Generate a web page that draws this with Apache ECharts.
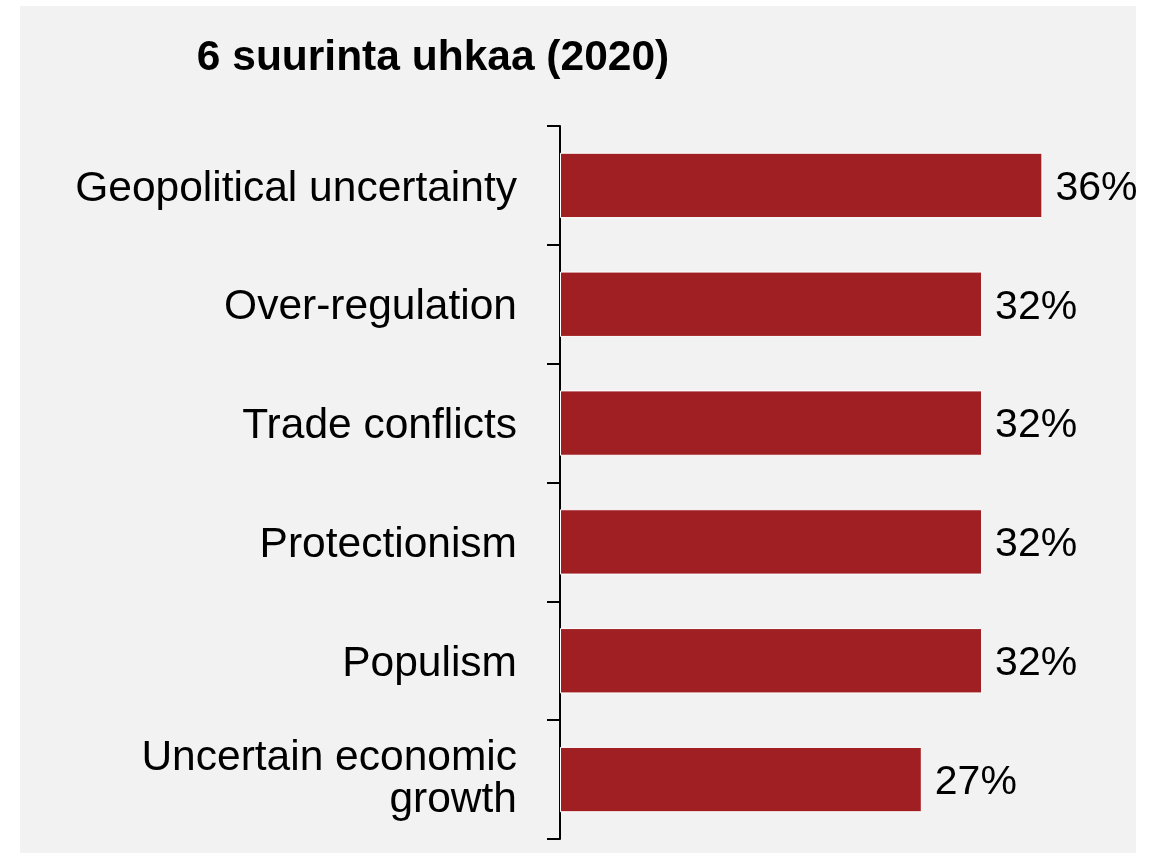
<!DOCTYPE html>
<html>
<head>
<meta charset="utf-8">
<script src="https://cdn.jsdelivr.net/npm/echarts@6/dist/echarts.min.js"></script>
<style>
  html, body { margin: 0; padding: 0; background: #ffffff; }
  #bg { position: absolute; left: 20px; top: 6px; width: 1116px; height: 847px; background: #f2f2f2; }
  #chart { position: absolute; left: 0; top: 0; width: 1158px; height: 854px; }
</style>
</head>
<body>
<div id="bg"></div>
<div id="chart"></div>
<script>
const titleText = '6 suurinta uhkaa (2020)';
const categories = [
  'Geopolitical uncertainty',
  'Over-regulation',
  'Trade conflicts',
  'Protectionism',
  'Populism',
  'Uncertain economic\ngrowth'
];
const values = [36, 31.5, 31.5, 31.5, 31.5, 27];

const font = '"Liberation Sans", Arial, sans-serif';
const labelRich = {
  f: { fontFamily: font, fontSize: 42.5, color: '#000', lineHeight: 42, padding: [7, 0, 0, 0], align: 'right' },
  n: { fontFamily: font, fontSize: 42.5, color: '#000', lineHeight: 42, align: 'right' }
};
const chart = echarts.init(document.getElementById('chart'), null, { renderer: 'canvas' });
chart.setOption({
  backgroundColor: 'transparent',
  animation: false,
  title: {
    text: titleText,
    left: 428,
    textAlign: 'center',
    top: 32,
    textStyle: { fontFamily: font, fontSize: 42.5, fontWeight: 'bold', color: '#000', lineHeight: 42 }
  },
  grid: { left: 560, right: 62, top: 126, bottom: 15, containLabel: false },
  xAxis: {
    type: 'value', min: 0, max: 40, show: false
  },
  yAxis: {
    type: 'category',
    data: categories,
    inverse: true,
    axisLine: { show: true, lineStyle: { color: '#000', width: 2 } },
    axisTick: { show: true, length: 13, lineStyle: { color: '#000', width: 2 } },
    axisLabel: {
      margin: 43, fontFamily: font, fontSize: 42.5, color: '#000', lineHeight: 42, align: 'right',
      formatter: v => {
        const lines = v.split('\n');
        const key = lines.length === 1 ? 'f' : 'n';
        return lines.map(s => '{' + key + '|' + s + '}').join('\n');
      },
      rich: labelRich
    },
    splitLine: { show: false }
  },
  series: [{
    type: 'bar',
    data: values,
    barWidth: '55%',
    itemStyle: { color: '#a01f22', borderColor: '#ffffff', borderWidth: 1 },
    label: {
      show: true, position: 'right', distance: 13, offset: [0, 3],
      fontFamily: font, fontSize: 41, color: '#000',
      formatter: p => Math.round(p.value) + '%'
    }
  }]
});
</script>
</body>
</html>
